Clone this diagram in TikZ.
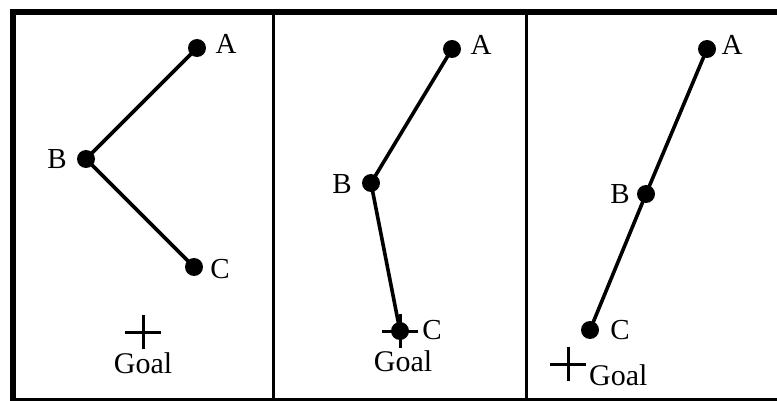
\documentclass[tikz,border=0pt]{standalone}
\usepackage{fontspec}
\setmainfont{Liberation Serif}
\begin{document}
\begin{tikzpicture}[x=1pt,y=-1pt,
  joint/.style={circle,fill=black,inner sep=0pt,minimum size=18pt},
  lbl/.style={inner sep=0pt,font=\fontsize{29}{31}\selectfont},
  goallbl/.style={inner sep=0pt,anchor=base,font=\fontsize{30}{32}\selectfont},
  arm/.style={line width=3.6pt},
  crossline/.style={line width=3pt},
  framebar/.style={fill=black}]
\useasboundingbox (0,0) rectangle (777,401);
\fill[white] (0,0) rectangle (777,401);
% frame
\fill[framebar] (10,9) rectangle (777,15);
\fill[framebar] (10,9) rectangle (16,401);
\fill[framebar] (10,398) rectangle (777,401);
\fill[framebar] (272,15) rectangle (274.5,398);
\fill[framebar] (525,15) rectangle (527.5,398);
% panel 1
\node[joint] (a1) at (197,48) {};
\node[joint] (b1) at (86,159) {};
\node[joint] (c1) at (194,267) {};
\draw[arm] (a1.center) -- (b1.center) -- (c1.center);
\node[lbl] (la1) at (226,44) {A};
\node[lbl] (lb1) at (57,159) {B};
\node[lbl] (lc1) at (220,269) {C};
\coordinate (g1) at (143,332);
\draw[crossline] ([xshift=-18pt]g1) -- ([xshift=18pt]g1);
\draw[crossline] ([yshift=-17pt]g1) -- ([yshift=17pt]g1);
\node[goallbl] (lg1) at (143,373) {Goal};
% panel 2
\node[joint] (a2) at (452,49) {};
\node[joint] (b2) at (371,183) {};
\node[joint] (c2) at (400,331) {};
\draw[arm] (a2.center) -- (b2.center) -- (c2.center);
\node[lbl] (la2) at (481,45) {A};
\node[lbl] (lb2) at (342,184) {B};
\node[lbl] (lc2) at (432,330) {C};
\coordinate (g2) at (400,331);
\draw[crossline] ([xshift=-18pt]g2) -- ([xshift=18pt]g2);
\draw[crossline] ([yshift=-17pt]g2) -- ([yshift=17pt]g2);
\node[goallbl] (lg2) at (403,371) {Goal};
% panel 3
\node[joint] (a3) at (707,49) {};
\node[joint] (b3) at (646,194) {};
\node[joint] (c3) at (590,330) {};
\draw[arm] (a3.center) -- (b3.center) -- (c3.center);
\node[lbl] (la3) at (732,45) {A};
\node[lbl] (lb3) at (620,194) {B};
\node[lbl] (lc3) at (620,330) {C};
\coordinate (g3) at (568,364);
\draw[crossline] ([xshift=-18pt]g3) -- ([xshift=18pt]g3);
\draw[crossline] ([yshift=-17pt]g3) -- ([yshift=17pt]g3);
\node[goallbl,anchor=base west] (lg3) at (589,385) {Goal};
\end{tikzpicture}
\end{document}
